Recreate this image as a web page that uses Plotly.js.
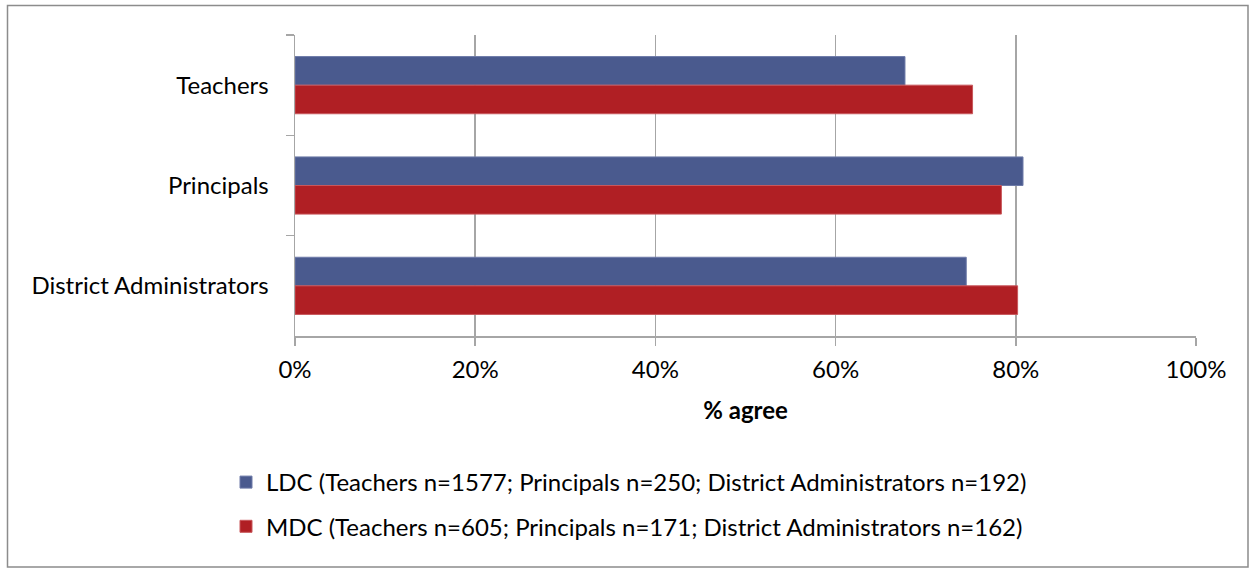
<!DOCTYPE html>
<html><head><meta charset="utf-8">
<script src="https://cdn.plot.ly/plotly-3.0.1.min.js"></script>
<style>html,body{margin:0;padding:0;background:#fff}#c{width:1251px;height:569px}</style>
</head><body><div id="c"></div>
<script>
const categories = ["Teachers", "Principals", "District Administrators"];
const ldcValues = [0.677, 0.808, 0.745];
const mdcValues = [0.752, 0.784, 0.802];
const ldcName = "LDC (Teachers n=1577; Principals n=250; District Administrators n=192)";
const mdcName = "MDC (Teachers n=605; Principals n=171; District Administrators n=162)";
const xTickVals = [0, 0.2, 0.4, 0.6, 0.8, 1.0];
const xTickText = ["0%", "20%", "40%", "60%", "80%", "100%"];

const W = 1251, H = 569, L = 295, R = 55, T = 35, B = 233;
const pw = W - L - R, ph = H - T - B;
const px = x => (x - L) / pw;
const py = y => (H - B - y) / ph;

const FONT = "Lato, sans-serif";
const FS = 24;

const traces = [
  {type: "bar", orientation: "h", y: categories, x: ldcValues, name: ldcName,
   legendgroup: "a", marker: {color: "#4A5A8E", line: {color: "#6E7BA8", width: 1}}, hoverinfo: "x+y"},
  {type: "bar", orientation: "h", y: categories, x: mdcValues, name: mdcName,
   legendgroup: "b", marker: {color: "#B01F24", line: {color: "#C8575B", width: 1}}, hoverinfo: "x+y"}
];

const layout = {
  width: W, height: H,
  margin: {l: L, r: R, t: T, b: B, pad: 0},
  paper_bgcolor: "#fff", plot_bgcolor: "#fff",
  barmode: "group", bargap: 0.43, bargroupgap: 0,
  font: {family: FONT, size: FS, color: "#000"},
  xaxis: {
    range: [0, 1], tickvals: xTickVals, ticktext: xTickText,
    showgrid: true, gridcolor: "#A6A6A6", gridwidth: 1.5,
    showline: true, linecolor: "#A6A6A6", linewidth: 1.5,
    ticks: "outside", ticklen: 8, tickcolor: "#A6A6A6", tickwidth: 1.5,
    tickfont: {size: FS, family: FONT}, ticklabelstandoff: 4,
    zeroline: false, fixedrange: true,
    title: {text: "<b>% agree</b>", font: {size: FS, family: FONT}, standoff: 20}
  },
  yaxis: {
    type: "category", autorange: "reversed",
    showline: true, linecolor: "#A6A6A6", linewidth: 1.5,
    ticks: "outside", tickson: "boundaries", ticklen: 8, tickcolor: "#A6A6A6", tickwidth: 1.5,
    tickfont: {size: FS, family: FONT}, ticklabelstandoff: 20,
    showgrid: false, zeroline: false, fixedrange: true
  },
  showlegend: true,
  legend: {
    orientation: "v", x: px(226), xanchor: "left", y: py(460), yanchor: "top",
    font: {size: FS, family: FONT}, tracegroupgap: 10, itemclick: false,
    bgcolor: "rgba(0,0,0,0)"
  },
  shapes: [{
    type: "rect", xref: "paper", yref: "paper",
    x0: px(7.5), x1: px(1248), y0: py(567), y1: py(5.5),
    line: {color: "#8C8C8C", width: 1.5}, fillcolor: "rgba(0,0,0,0)", layer: "below"
  }]
};

Plotly.newPlot("c", traces, layout, {displayModeBar: false, staticPlot: true});
</script></body></html>
